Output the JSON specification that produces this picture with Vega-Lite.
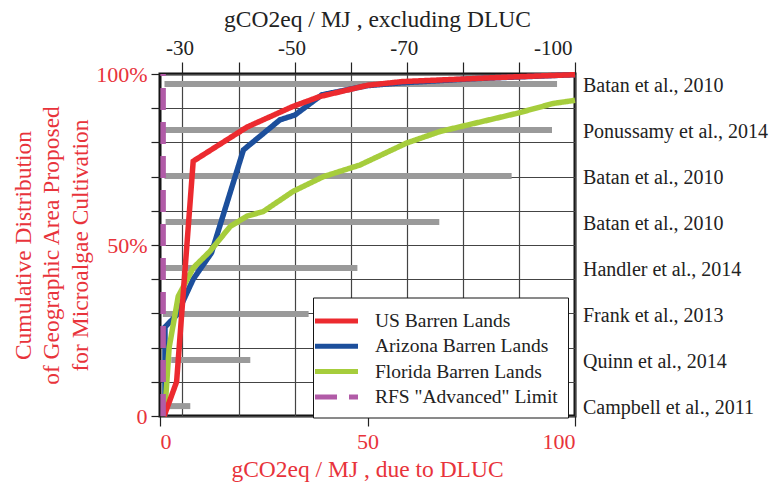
{
  "$schema": "https://vega.github.io/schema/vega-lite/v6.json",
  "width": 415,
  "height": 342,
  "autosize": {"type": "none"},
  "padding": {"left": 160, "top": 74, "right": 194, "bottom": 66},
  "background": "white",
  "config": {
    "font": "Liberation Serif, Times New Roman, serif",
    "view": {"stroke": "#151515", "strokeWidth": 3}
  },
  "datasets": {
    "refs": [
      {"rank": 1, "study": "Batan et al., 2010", "start": -26.8, "end": -96.8},
      {"rank": 2, "study": "Ponussamy et al., 2014", "start": -26.5, "end": -95.9},
      {"rank": 3, "study": "Batan et al., 2010", "start": -26.8, "end": -88.7},
      {"rank": 4, "study": "Batan et al., 2010", "start": -27, "end": -75.8},
      {"rank": 5, "study": "Handler et al., 2014", "start": -26.8, "end": -61.2},
      {"rank": 6, "study": "Frank et al., 2013", "start": -26.5, "end": -52.5},
      {"rank": 7, "study": "Quinn et al., 2014", "start": -28, "end": -42.1},
      {"rank": 8, "study": "Campbell et al., 2011", "start": -27.5, "end": -31.4}
    ],
    "curves": [
      {"series": "Arizona Barren Lands", "i": 1, "dluc": 1.2, "pct": 0},
      {"series": "Arizona Barren Lands", "i": 2, "dluc": 1.2, "pct": 26},
      {"series": "Arizona Barren Lands", "i": 3, "dluc": 4, "pct": 29.5},
      {"series": "Arizona Barren Lands", "i": 4, "dluc": 8, "pct": 40},
      {"series": "Arizona Barren Lands", "i": 5, "dluc": 12.4, "pct": 47.7},
      {"series": "Arizona Barren Lands", "i": 6, "dluc": 20.1, "pct": 77.8},
      {"series": "Arizona Barren Lands", "i": 7, "dluc": 28.9, "pct": 86.6},
      {"series": "Arizona Barren Lands", "i": 8, "dluc": 32.5, "pct": 88},
      {"series": "Arizona Barren Lands", "i": 9, "dluc": 39, "pct": 93.9},
      {"series": "Arizona Barren Lands", "i": 10, "dluc": 50, "pct": 96.6},
      {"series": "Arizona Barren Lands", "i": 11, "dluc": 58, "pct": 97.4},
      {"series": "Arizona Barren Lands", "i": 12, "dluc": 75, "pct": 98.6},
      {"series": "Arizona Barren Lands", "i": 13, "dluc": 100, "pct": 99.8},
      {"series": "Florida Barren Lands", "i": 1, "dluc": 1.2, "pct": 2},
      {"series": "Florida Barren Lands", "i": 2, "dluc": 2.2, "pct": 20},
      {"series": "Florida Barren Lands", "i": 3, "dluc": 4.4, "pct": 35},
      {"series": "Florida Barren Lands", "i": 4, "dluc": 8, "pct": 43.3},
      {"series": "Florida Barren Lands", "i": 5, "dluc": 12, "pct": 48.1},
      {"series": "Florida Barren Lands", "i": 6, "dluc": 16.9, "pct": 55.4},
      {"series": "Florida Barren Lands", "i": 7, "dluc": 20.9, "pct": 58.4},
      {"series": "Florida Barren Lands", "i": 8, "dluc": 24.9, "pct": 59.8},
      {"series": "Florida Barren Lands", "i": 9, "dluc": 32.1, "pct": 65.7},
      {"series": "Florida Barren Lands", "i": 10, "dluc": 39.4, "pct": 70},
      {"series": "Florida Barren Lands", "i": 11, "dluc": 48.2, "pct": 73.4},
      {"series": "Florida Barren Lands", "i": 12, "dluc": 59.4, "pct": 79.8},
      {"series": "Florida Barren Lands", "i": 13, "dluc": 67.5, "pct": 83.2},
      {"series": "Florida Barren Lands", "i": 14, "dluc": 86, "pct": 88.5},
      {"series": "Florida Barren Lands", "i": 15, "dluc": 94.8, "pct": 91.4},
      {"series": "Florida Barren Lands", "i": 16, "dluc": 100, "pct": 92.3},
      {"series": "US Barren Lands", "i": 1, "dluc": 1, "pct": 0},
      {"series": "US Barren Lands", "i": 2, "dluc": 4, "pct": 10},
      {"series": "US Barren Lands", "i": 3, "dluc": 8, "pct": 74.5},
      {"series": "US Barren Lands", "i": 4, "dluc": 21, "pct": 84.5},
      {"series": "US Barren Lands", "i": 5, "dluc": 32, "pct": 90.5},
      {"series": "US Barren Lands", "i": 6, "dluc": 38.5, "pct": 93.4},
      {"series": "US Barren Lands", "i": 7, "dluc": 50, "pct": 96.7},
      {"series": "US Barren Lands", "i": 8, "dluc": 58.5, "pct": 97.8},
      {"series": "US Barren Lands", "i": 9, "dluc": 86, "pct": 99.2},
      {"series": "US Barren Lands", "i": 10, "dluc": 100, "pct": 99.8},
      {"series": "RFS \"Advanced\" Limit", "i": 1, "dluc": 0.75, "pct": 0},
      {"series": "RFS \"Advanced\" Limit", "i": 2, "dluc": 0.75, "pct": 100}
    ]
  },
  "layer": [
    {
      "data": {"name": "refs"},
      "encoding": {
        "y": {
          "field": "rank",
          "type": "ordinal",
          "scale": {"type": "point", "padding": 0.215},
          "axis": null
        }
      },
      "layer": [
        {
          "mark": {"type": "rule", "color": "#9a9a9a", "strokeWidth": 6, "strokeCap": "butt"},
          "encoding": {
            "x": {
              "field": "start",
              "type": "quantitative",
              "scale": {"domain": [-26, -100], "nice": false, "zero": false},
              "axis": {
                "orient": "top",
                "values": [-30, -40, -50, -60, -70, -80, -90, -100],
                "labelExpr": "indexof([-30, -50, -70, -100], datum.value) >= 0 ? '-' + abs(datum.value) : ''",
                "grid": true,
                "gridColor": "#444444",
                "gridWidth": 1.2,
                "domain": false,
                "tickSize": 12,
                "tickColor": "#222222",
                "tickWidth": 1.2,
                "labelFontSize": 21,
                "labelColor": "#222222",
                "labelPadding": 4,
                "labelOffset": -3,
                "title": "gCO2eq / MJ , excluding DLUC",
                "titleFontSize": 23.5,
                "titleFontWeight": "normal",
                "titleColor": "#222222",
                "titleX": 217,
                "titleY": -48,
                "titleBaseline": "alphabetic"
              }
            },
            "x2": {"field": "end"}
          }
        },
        {
          "mark": {"type": "text", "align": "left", "baseline": "middle", "dx": 8, "dy": 2, "fontSize": 20, "color": "#222222"},
          "encoding": {
            "x": {"datum": -100, "type": "quantitative"},
            "text": {"field": "study"}
          }
        }
      ]
    },
    {
      "data": {"name": "curves"},
      "mark": {"type": "line", "strokeWidth": 5.5, "strokeCap": "butt", "strokeJoin": "miter"},
      "encoding": {
        "x": {
          "field": "dluc",
          "type": "quantitative",
          "scale": {"domain": [0, 100], "nice": false},
          "axis": {
            "orient": "bottom",
            "values": [0, 50, 100],
            "grid": false,
            "domain": false,
            "tickSize": 10,
            "tickColor": "#222222",
            "tickWidth": 1.2,
            "labelFontSize": 22,
            "labelColor": "#e8333b",
            "labelPadding": 5,
            "title": "gCO2eq / MJ , due to DLUC",
            "titleFontSize": 23.5,
            "titleFontWeight": "normal",
            "titleColor": "#e8333b",
            "titleX": 207,
            "titleY": 60,
            "titleBaseline": "alphabetic"
          }
        },
        "y": {
          "field": "pct",
          "type": "quantitative",
          "scale": {"domain": [0, 100], "nice": false},
          "axis": {
            "orient": "left",
            "values": [0, 10, 20, 30, 40, 50, 60, 70, 80, 90, 100],
            "labelExpr": "datum.value == 100 ? '100%' : datum.value == 50 ? '50%' : datum.value == 0 ? '0' : ''",
            "grid": true,
            "gridColor": "#444444",
            "gridWidth": 1.2,
            "domain": false,
            "tickSize": 9,
            "tickColor": "#222222",
            "tickWidth": 1.2,
            "labelFontSize": 22,
            "labelColor": "#e8333b",
            "labelPadding": 4,
            "title": ["Cumulative Distribution", "of Geographic Area Proposed", "for Microalgae Cultivation"],
            "titleFontSize": 23.5,
            "titleFontWeight": "normal",
            "titleColor": "#e8333b",
            "titleLineHeight": 28.5,
            "titleX": -137,
            "titleY": 171,
            "titleBaseline": "middle",
            "titleAngle": -90
          }
        },
        "order": {"field": "i", "type": "quantitative"},
        "color": {
          "field": "series",
          "type": "nominal",
          "scale": {
            "domain": ["US Barren Lands", "Arizona Barren Lands", "Florida Barren Lands", "RFS \"Advanced\" Limit"],
            "range": ["#ec2a2f", "#1c4f9c", "#a6cd3c", "#b15ba7"]
          },
          "legend": {
            "orient": "none",
            "legendX": 153,
            "legendY": 223.5,
            "title": null,
            "fillColor": "white",
            "strokeColor": "#151515",
            "padding": 10,
            "symbolType": "M-2,0H2",
            "symbolSize": 462,
            "symbolStrokeWidth": 5,
            "labelFontSize": 19.5,
            "labelColor": "#222222",
            "labelOffset": 25,
            "labelLimit": 300,
            "rowPadding": 1.3
          }
        },
        "strokeDash": {
          "field": "series",
          "type": "nominal",
          "scale": {
            "domain": ["US Barren Lands", "Arizona Barren Lands", "Florida Barren Lands", "RFS \"Advanced\" Limit"],
            "range": [[1, 0], [1, 0], [1, 0], [22, 12]]
          }
        }
      }
    }
  ],
  "resolve": {
    "scale": {"x": "independent", "y": "independent"},
    "axis": {"x": "independent", "y": "independent"}
  }
}
